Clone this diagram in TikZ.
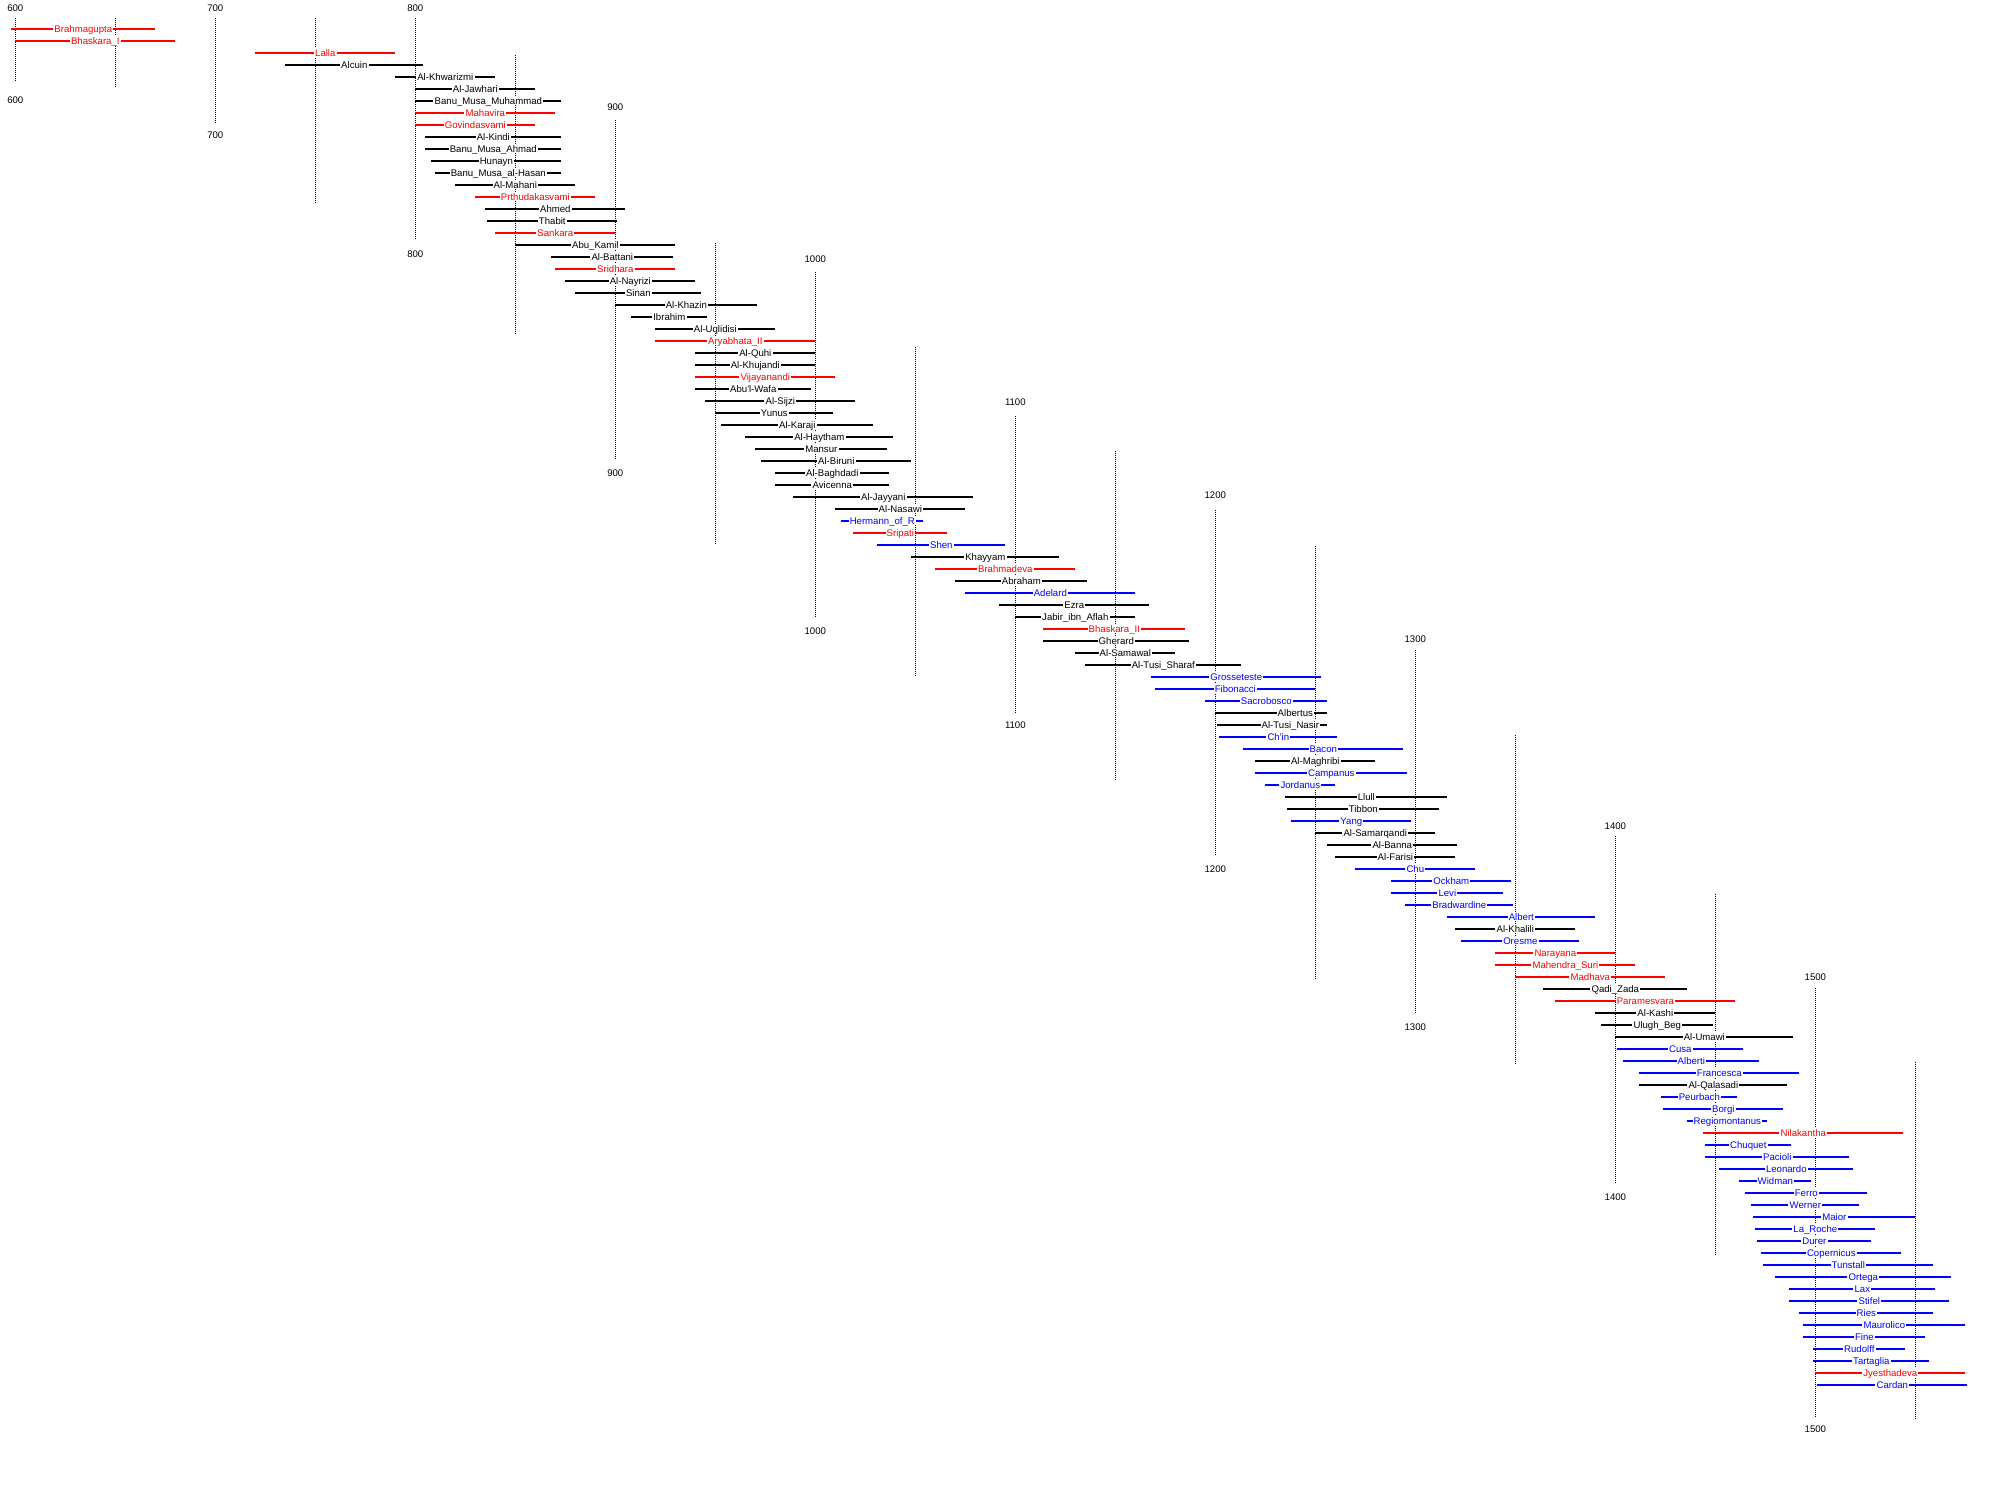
\documentclass[tikz,border=0pt]{standalone}
\usepackage{fontspec}
\setmainfont{Liberation Sans}
\begin{document}
\begin{tikzpicture}[x=1pt,y=-0.5pt,
  bar/.style={line width=0.8pt},
  axisline/.style={line width=0.5pt,dash pattern=on 0.5pt off 0.5pt},
  lbl/.style={fill=white,inner xsep=0.6pt,inner ysep=0.4pt,text height=3.5pt,text depth=0pt,font=\fontsize{4.8}{5}\selectfont},
  yrlbl/.style={inner sep=0pt,text height=3.5pt,text depth=0pt,font=\fontsize{4.8}{5}\selectfont}]
\useasboundingbox (592.35,0) rectangle (1592.35,1500);
\fill[white] (592.35,0) rectangle (1592.35,1500);
% century axes
\foreach \yr/\ta/\la/\lb/\ba in {600/8.3/18.3/81.7/100, 700/8.3/18.3/122.7/135.3, 800/8.3/18.3/239/254.3,
  900/107.3/120/459/473, 1000/259.3/271.7/617/631, 1100/401.7/416/713/725.3, 1200/495/510/855/869,
  1300/639/650/1014/1027, 1400/825.7/836/1184/1197.3, 1500/977/988/1418/1429.3}{
  \node[yrlbl] (top\yr) at (\yr,\ta) {\yr};
  \node[yrlbl] (bot\yr) at (\yr,\ba) {\yr};
  \draw[axisline] (\yr,\la) -- (\yr,\lb);
}
% half-century axes
\foreach \yr/\la/\lb in {650/18.3/88.3, 750/18.3/204, 850/55/335, 950/243/544, 1050/346.7/676,
  1150/451/781, 1250/546/980, 1350/735/1064, 1450/894/1255, 1550/1062/1420}{
  \draw[axisline] (\yr,\la) -- (\yr,\lb);
}
% lifespans
\foreach \n/\a/\b/\c/\e [count=\i] in {
Brahmagupta/598/670/red/0,
Bhaskara\_I/600/680/red/0,
Lalla/720/790/red/0,
Alcuin/735/804/black/0,
Al-Khwarizmi/790/840/black/0,
Al-Jawhari/800/860/black/0,
Banu\_Musa\_Muhammad/800/873/black/0,
Mahavira/800/870/red/0,
Govindasvami/800/860/red/0,
Al-Kindi/805/873/black/0,
Banu\_Musa\_Ahmad/805/873/black/0,
Hunayn/808/873/black/0,
Banu\_Musa\_al-Hasan/810/873/black/0,
Al-Mahani/820/880/black/0,
Prthudakasvami/830/890/red/0,
Ahmed/835/905/black/0,
Thabit/836/901/black/0,
Sankara/840/900/red/0,
Abu\_Kamil/850/930/black/0,
Al-Battani/868/929/black/0,
Sridhara/870/930/red/0,
Al-Nayrizi/875/940/black/0,
Sinan/880/943/black/0,
Al-Khazin/900/971/black/0,
Ibrahim/908/946/black/0,
Al-Uqlidisi/920/980/black/0,
Aryabhata\_II/920/1000/red/0,
Al-Quhi/940/1000/black/0,
Al-Khujandi/940/1000/black/0,
Vijayanandi/940/1010/red/0,
Abu\textquotesingle l-Wafa/940/998/black/0,
Al-Sijzi/945/1020/black/0,
Yunus/950/1009/black/0,
Al-Karaji/953/1029/black/0,
Al-Haytham/965/1039/black/0,
Mansur/970/1036/black/0,
Al-Biruni/973/1048/black/0,
Al-Baghdadi/980/1037/black/0,
Avicenna/980/1037/black/0,
Al-Jayyani/989/1079/black/0,
Al-Nasawi/1010/1075/black/0,
Hermann\_of\_R/1013/1054/blue/0,
Sripati/1019/1066/red/0,
Shen/1031/1095/blue/0,
Khayyam/1048/1122/black/0,
Brahmadeva/1060/1130/red/0,
Abraham/1070/1136/black/0,
Adelard/1075/1160/blue/0,
Ezra/1092/1167/black/0,
Jabir\_ibn\_Aflah/1100/1160/black/0,
Bhaskara\_II/1114/1185/red/0,
Gherard/1114/1187/black/0,
Al-Samawal/1130/1180/black/0,
Al-Tusi\_Sharaf/1135/1213/black/0,
Grosseteste/1168/1253/blue/0,
Fibonacci/1170/1250/blue/0,
Sacrobosco/1195/1256/blue/0,
Albertus/1200/1256/black/1240,
Al-Tusi\_Nasir/1201/1256/black/1237.5,
Ch\textquotesingle in/1202/1261/blue/0,
Bacon/1214/1294/blue/0,
Al-Maghribi/1220/1280/black/0,
Campanus/1220/1296/blue/0,
Jordanus/1225/1260/blue/0,
Llull/1235/1316/black/0,
Tibbon/1236/1312/black/0,
Yang/1238/1298/blue/0,
Al-Samarqandi/1250/1310/black/0,
Al-Banna/1256/1321/black/0,
Al-Farisi/1260/1320/black/0,
Chu/1270/1330/blue/0,
Ockham/1288/1348/blue/0,
Levi/1288/1344/blue/0,
Bradwardine/1295/1349/blue/0,
Albert/1316/1390/blue/0,
Al-Khalili/1320/1380/black/0,
Oresme/1323/1382/blue/0,
Narayana/1340/1400/red/0,
Mahendra\_Suri/1340/1410/red/0,
Madhava/1350/1425/red/0,
Qadi\_Zada/1364/1436/black/0,
Paramesvara/1370/1460/red/0,
Al-Kashi/1390/1450/black/0,
Ulugh\_Beg/1393/1449/black/0,
Al-Umawi/1400/1489/black/0,
Cusa/1401/1464/blue/0,
Alberti/1404/1472/blue/0,
Francesca/1412/1492/blue/0,
Al-Qalasadi/1412/1486/black/0,
Peurbach/1423/1461/blue/0,
Borgi/1424/1484/blue/0,
Regiomontanus/1436/1476/blue/0,
Nilakantha/1444/1544/red/0,
Chuquet/1445/1488/blue/0,
Pacioli/1445/1517/blue/0,
Leonardo/1452/1519/blue/0,
Widman/1462/1498/blue/0,
Ferro/1465/1526/blue/0,
Werner/1468/1522/blue/0,
Maior/1469/1550/blue/0,
La\_Roche/1470/1530/blue/0,
Durer/1471/1528/blue/0,
Copernicus/1473/1543/blue/0,
Tunstall/1474/1559/blue/0,
Ortega/1480/1568/blue/0,
Lax/1487/1560/blue/0,
Stifel/1487/1567/blue/0,
Ries/1492/1559/blue/0,
Maurolico/1494/1575/blue/0,
Fine/1494/1555/blue/0,
Rudolff/1499/1545/blue/0,
Tartaglia/1499/1557/blue/0,
Jyesthadeva/1500/1575/red/0,
Cardan/1501/1576/blue/0}{
  \pgfmathsetmacro\yy{28.7+12*(\i-1)}
  \pgfmathsetmacro\lx{\e==0 ? (\a+\b)/2 : \e}
  \draw[bar,\c] (\a,\yy) -- (\b,\yy);
  \node[lbl,text=\c] (p\i) at (\lx,\yy) {\n};
}
\end{tikzpicture}
\end{document}
